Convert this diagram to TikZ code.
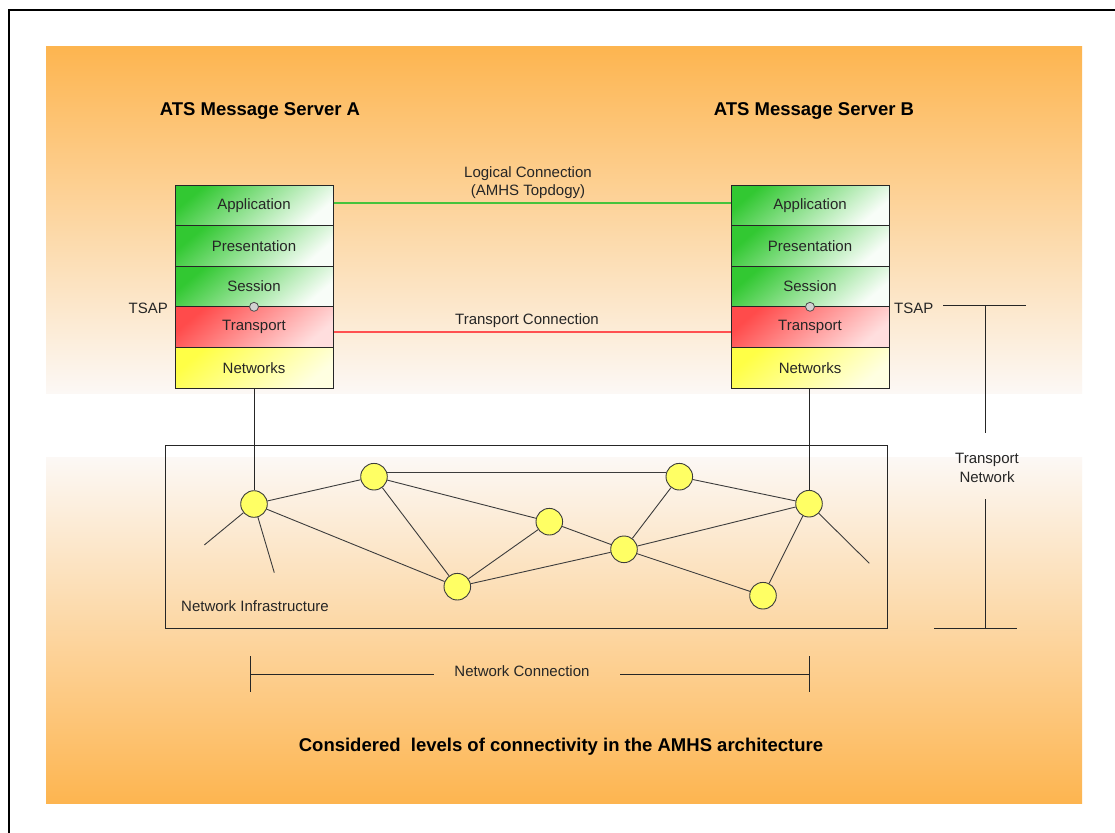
\documentclass[tikz,border=0pt]{standalone}
\usepackage{fontspec}
\setmainfont{Liberation Sans}
\definecolor{orng}{RGB}{253,181,80}
\definecolor{paleo}{RGB}{252,248,245}
\definecolor{gdark}{RGB}{50,200,50}
\definecolor{glight}{RGB}{248,253,248}
\definecolor{rdark}{RGB}{255,75,75}
\definecolor{rlight}{RGB}{255,222,222}
\definecolor{ydark}{RGB}{255,255,70}
\definecolor{ylight}{RGB}{255,255,225}
\definecolor{edgec}{RGB}{60,60,60}
\definecolor{lgreen}{RGB}{70,195,60}
\definecolor{lred}{RGB}{255,80,80}
\definecolor{yfill}{RGB}{255,255,100}
\tikzset{
  layer/.style={draw=black!85, line width=1pt, minimum width=158pt, minimum height=40.6pt, inner sep=0pt, font=\fontsize{15}{18}\selectfont, text=black!85},
  glayer/.style={layer, top color=gdark, bottom color=glight, shading angle=40},
  rlayer/.style={layer, top color=rdark, bottom color=rlight, shading angle=40},
  ylayer/.style={layer, top color=ydark, bottom color=ylight, shading angle=40},
  netnode/.style={circle, draw=edgec, fill=yfill, minimum size=26.6pt, inner sep=0pt, line width=0.9pt},
  tsapdot/.style={circle, draw=black!70, fill=black!18, minimum size=9pt, inner sep=0pt, line width=0.8pt},
  title/.style={font=\bfseries\fontsize{18.5}{22}\selectfont, inner sep=0pt},
  lbl/.style={font=\fontsize{15}{18.5}\selectfont, inner sep=0pt, text=black!85},
  edge/.style={draw=edgec, line width=0.9pt},
  rule/.style={draw=black!85, line width=0.9pt},
}
\begin{document}
\begin{tikzpicture}[x=1pt,y=-1pt]
\clip (0,0) rectangle (1115,832);
\fill[white] (0,0) rectangle (1115,832);
% background panels
\shade[top color=orng, bottom color=paleo] (46,47) rectangle (1082,393);
\shade[top color=paleo, bottom color=orng] (46,457) rectangle (1082,803);
% outer frame
\draw[black, line width=2pt] (9,10) rectangle (1130,850);

% titles
\node[title] (titleA) at (260,111) {ATS Message Server A};
\node[title] (titleB) at (814,111) {ATS Message Server B};

% stack A
\node[glayer] (appA) at (254,205.3) {Application};
\node[glayer] (preA) at (254,245.9) {Presentation};
\node[glayer] (sesA) at (254,286.5) {Session};
\node[rlayer] (trA)  at (254,327.1) {Transport};
\node[ylayer] (netA) at (254,367.7) {Networks};
% stack B
\node[glayer] (appB) at (810,205.3) {Application};
\node[glayer] (preB) at (810,245.9) {Presentation};
\node[glayer] (sesB) at (810,286.5) {Session};
\node[rlayer] (trB)  at (810,327.1) {Transport};
\node[ylayer] (netB) at (810,367.7) {Networks};

\node[tsapdot] (tsA) at (254,306.8) {};
\node[tsapdot] (tsB) at (810,306.8) {};
\node[lbl, anchor=east] (tsapA) at (168,308) {TSAP};
\node[lbl, anchor=west] (tsapB) at (894,308) {TSAP};

% logical and transport connections
\draw[lgreen, line width=2pt] ([yshift=2pt]appA.east) -- ([yshift=2pt]appB.west);
\draw[lred, line width=2pt] ([yshift=-5pt]trA.east) -- ([yshift=-5pt]trB.west);
\node[lbl, align=center] (logl) at (528,182.5) {Logical Connection\\(AMHS Topdogy)};
\node[lbl] (trl) at (527,321) {Transport Connection};

% network infrastructure box
\draw[rule] (165,445) rectangle (887,628);
\node[lbl, anchor=west] (infra) at (181,606) {Network Infrastructure};

% network nodes
\node[netnode] (n1) at (254,504) {};
\node[netnode] (n2) at (374,476.7) {};
\node[netnode] (n3) at (549.3,521.7) {};
\node[netnode] (n4) at (457.3,586.7) {};
\node[netnode] (n5) at (624,549.3) {};
\node[netnode] (n6) at (679.3,476.7) {};
\node[netnode] (n7) at (809,503.7) {};
\node[netnode] (n8) at (763,595.7) {};
\coordinate (s1) at (204.3,545);
\coordinate (s2) at (274.3,572.7);
\coordinate (s3) at (869.3,563.3);

\draw[edge] (n1) -- (n2);
\draw[edge] (n1) -- (n4);
\draw[edge] (n1) -- (s1);
\draw[edge] (n1) -- (s2);
\draw[edge] (n2.19) -- (n6.161);
\draw[edge] (n2) -- (n3);
\draw[edge] (n2) -- (n4);
\draw[edge] (n4) -- (n3);
\draw[edge] (n4) -- (n5);
\draw[edge] (n3) -- (n5);
\draw[edge] (n5) -- (n6);
\draw[edge] (n5) -- (n7);
\draw[edge] (n5) -- (n8);
\draw[edge] (n6) -- (n7);
\draw[edge] (n7) -- (n8);
\draw[edge] (n7) -- (s3);
\draw[rule] (netA.south) -- (n1);
\draw[rule] (netB.south -| n7) -- (n7);

% transport network bracket
\coordinate (tnL) at (943,305.7);
\coordinate (tnR) at (1026,305.7);
\coordinate (tnT) at (985,305.7);
\coordinate (tnU) at (985,433);
\coordinate (tnD) at (985,499);
\coordinate (tnB) at (985,628);
\coordinate (tnBL) at (934,628);
\coordinate (tnBR) at (1017,628);
\draw[rule] (tnL) -- (tnR);
\draw[rule] (tnT) -- (tnU);
\draw[rule] (tnD) -- (tnB);
\draw[rule] (tnBL) -- (tnBR);
\node[lbl, align=center] (tnet) at (987,468) {Transport\\Network};

% network connection bracket
\coordinate (ncLT) at (250,656);
\coordinate (ncLB) at (250,692);
\coordinate (ncL) at (250,674);
\coordinate (ncLe) at (434,674);
\coordinate (ncRs) at (620,674);
\coordinate (ncR) at (809,674);
\coordinate (ncRT) at (809,656);
\coordinate (ncRB) at (809,692);
\draw[rule] (ncLT) -- (ncLB);
\draw[rule] (ncL) -- (ncLe);
\draw[rule] (ncRs) -- (ncR);
\draw[rule] (ncRT) -- (ncRB);
\node[lbl] (ncl) at (522,671) {Network Connection};

% caption
\node[title] (caption) at (561,747) {Considered\ \ levels of connectivity in the AMHS architecture};
\end{tikzpicture}
\end{document}
